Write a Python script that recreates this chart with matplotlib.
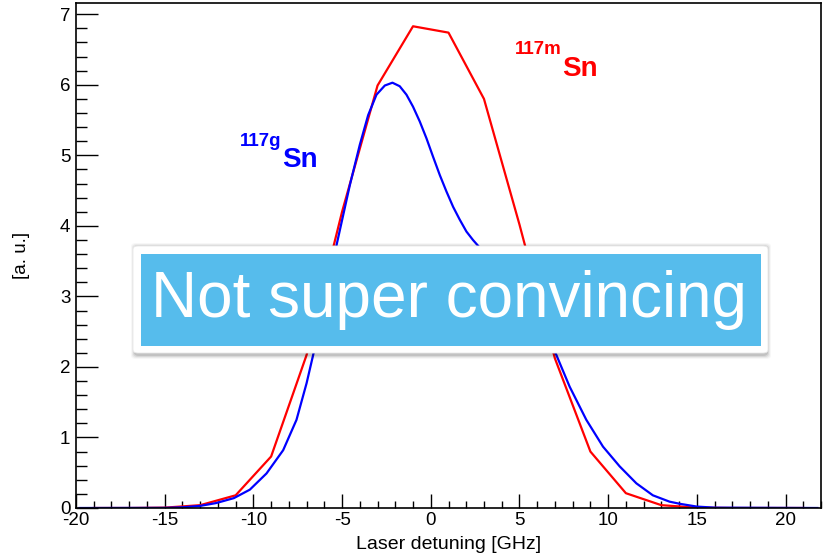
import matplotlib
matplotlib.use('Agg')
import matplotlib.pyplot as plt
from matplotlib.patches import FancyBboxPatch, Rectangle

plt.rcParams['font.family'] = ['Liberation Sans', 'DejaVu Sans']
plt.rcParams['axes.unicode_minus'] = False

# 117mSn (red), histogram-like, bin centres every 2 GHz
x_red = [-19, -17, -15, -13, -11, -9, -7, -5, -3, -1, 1, 3, 5, 7, 9, 11, 13, 15, 17, 19, 21]
y_red = [0.0, 0.0, 0.005, 0.04, 0.18, 0.73, 2.17, 4.2, 5.99, 6.83, 6.74, 5.80, 4.02, 2.12, 0.80, 0.21, 0.04, 0.005, 0.0, 0.0, 0.0]

# 117gSn (blue), smooth curve
x_blue = [-19.8, -15, -14, -13, -12.1, -11.1, -10.2, -9.26, -8.32, -7.57, -7.0, -6.63, -6.0,
          -5.31, -4.56, -4.0, -3.53, -3.06, -2.59, -2.16, -1.75, -1.37, -1.0, -0.62, -0.24,
          0.13, 0.51, 0.88, 1.26, 1.63, 2.01, 2.38, 2.66, 3.0, 3.5, 4.0, 4.5, 5.0, 5.5, 6.0,
          6.5, 7.08, 7.83, 8.77, 9.71, 10.65, 11.59, 12.52, 13.46, 14.03, 15, 16, 21.8]
y_blue = [0.0, 0.002, 0.01, 0.03, 0.07, 0.14, 0.26, 0.49, 0.82, 1.25, 1.77, 2.17, 2.9,
          3.73, 4.58, 5.15, 5.57, 5.86, 5.99, 6.03, 5.98, 5.86, 5.69, 5.48, 5.24,
          4.98, 4.72, 4.49, 4.27, 4.09, 3.92, 3.80, 3.72, 3.62, 3.50, 3.37, 3.22, 3.05, 2.85, 2.65,
          2.44, 2.17, 1.72, 1.25, 0.87, 0.59, 0.35, 0.18, 0.09, 0.06, 0.02, 0.005, 0.0]

W, H = 823, 558
fig = plt.figure(figsize=(W / 100, H / 100), dpi=100)
ax = fig.add_axes([76 / W, 50 / H, 745 / W, 505 / H])

ax.plot(x_red, y_red, color='#ff0000', lw=1.6)
ax.plot(x_blue, y_blue, color='#0000ff', lw=1.6)

ax.set_xlim(-20, 22)
ax.set_ylim(0, 7.16)
ax.set_xticks([-20, -15, -10, -5, 0, 5, 10, 15, 20])
ax.set_xticks(range(-20, 23), minor=True)
ax.set_yticks(range(0, 8))
ax.set_yticks([i * 0.2 for i in range(36)], minor=True)

ax.tick_params(axis='both', which='both', direction='in', top=False, right=False,
               labelsize=13.5, width=1.0, color='black')
ax.tick_params(axis='x', which='major', length=10, pad=3)
ax.tick_params(axis='x', which='minor', length=5)
ax.tick_params(axis='y', which='major', length=16, pad=4)
ax.tick_params(axis='y', which='minor', length=8)
for s in ax.spines.values():
    s.set_linewidth(1.2)

ax.set_xlabel('Laser detuning [GHz]', fontsize=14, va='center')
ax.xaxis.set_label_coords(0.5, -0.073)
ax.set_ylabel('[a. u.]', fontsize=13.5, va='center')
ax.yaxis.set_label_coords(-0.0725, 0.5)

# isotope labels
ax.text(-8.42, 5.13, '117g', color='#0000ff', fontsize=13.5, fontweight='bold', ha='right', va='baseline')
ax.text(-8.39, 4.84, 'Sn', color='#0000ff', fontsize=20, fontweight='bold', ha='left', va='baseline')
ax.text(7.35, 6.43, '117m', color='#ff0000', fontsize=13.5, fontweight='bold', ha='right', va='baseline')
ax.text(7.38, 6.13, 'Sn', color='#ff0000', fontsize=20, fontweight='bold', ha='left', va='baseline')

# overlay comment box (figure pixel coords)
def fx(px):
    return px / W

def fy(py):
    return 1 - py / H

for i, a in enumerate([0.10, 0.07, 0.05, 0.03]):
    fig.patches.append(FancyBboxPatch((fx(134 - i), fy(356 + i)), fx(634 + 2 * i), (110 + 2 * i) / H,
                                      boxstyle='round,pad=0,rounding_size=0.006',
                                      transform=fig.transFigure, facecolor='black',
                                      edgecolor='none', alpha=a, zorder=10))
fig.patches.append(FancyBboxPatch((fx(133), fy(353)), fx(635), 107 / H,
                                  boxstyle='round,pad=0,rounding_size=0.006',
                                  transform=fig.transFigure, facecolor='white',
                                  edgecolor='#e8e8e8', lw=0.6, zorder=11))
fig.patches.append(Rectangle((fx(141), fy(346)), fx(620), 92 / H, transform=fig.transFigure,
                             facecolor='#56bcec', edgecolor='none', zorder=12))
fig.text(fx(449), fy(300), 'Not super convincing', color='white', fontsize=46,
         ha='center', va='center', zorder=13)

fig.savefig('out.png', dpi=100)
